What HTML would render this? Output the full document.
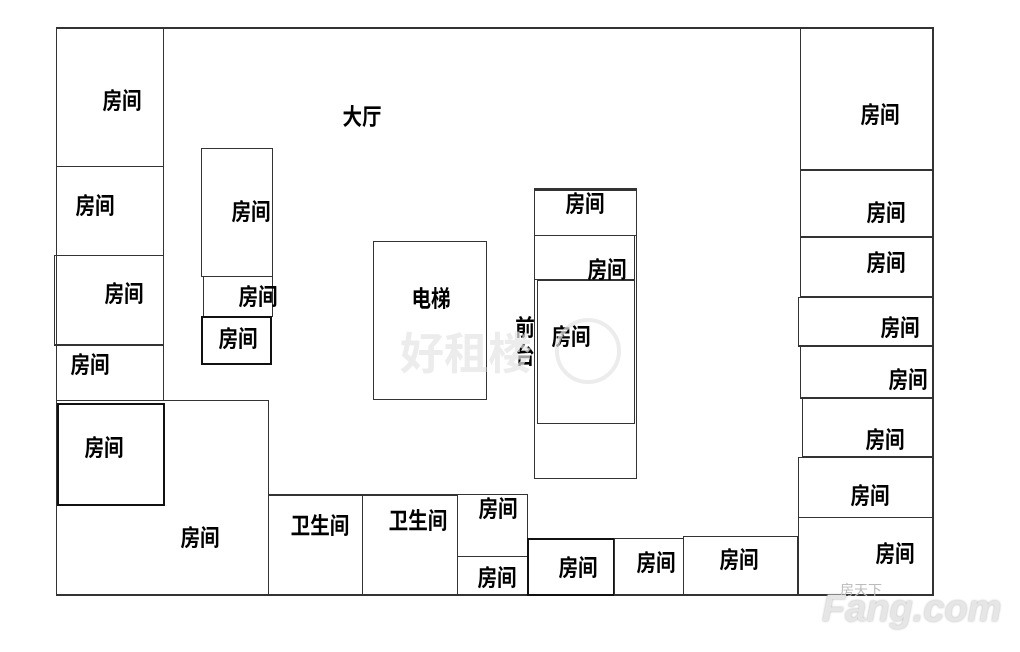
<!DOCTYPE html>
<html><head><meta charset="utf-8"><style>
body{margin:0;width:1020px;height:652px;background:#fff;position:relative;overflow:hidden;font-family:"Liberation Sans","Noto Sans CJK SC",sans-serif}
.r{position:absolute;border:1px solid #333;box-sizing:border-box}
.t{border-width:2px;border-color:#111}
.l{position:absolute;font-size:23px;color:#000;transform:translate(-50%,-50%) scaleX(0.85);white-space:nowrap;line-height:1;font-weight:bold}
</style></head><body>
<div class="r" style="left:56px;top:27px;width:878px;height:569px;border-width:2px 2px 2px 1px"></div>
<div class="r" style="left:56px;top:27px;width:108px;height:140px"></div>
<div class="r" style="left:56px;top:166px;width:108px;height:90px"></div>
<div class="r" style="left:54px;top:255px;width:110px;height:91px;border-bottom-width:2px"></div>
<div class="r" style="left:56px;top:345px;width:108px;height:56px"></div>
<div class="r" style="left:56px;top:400px;width:213px;height:196px"></div>
<div class="r t" style="left:57px;top:403px;width:108px;height:103px"></div>
<div class="r" style="left:201px;top:148px;width:72px;height:129px"></div>
<div class="r" style="left:203px;top:276px;width:70px;height:41px"></div>
<div class="r t" style="left:201px;top:316px;width:71px;height:49px"></div>
<div class="r" style="left:373px;top:241px;width:114px;height:159px"></div>
<div class="r" style="left:534px;top:188px;width:103px;height:291px;border-top-width:2px"></div>
<div class="r" style="left:534px;top:190px;width:103px;height:46px"></div>
<div class="r" style="left:534px;top:235px;width:101px;height:45px"></div>
<div class="r" style="left:537px;top:279px;width:98px;height:145px;border-top-width:2px"></div>
<div class="r" style="left:268px;top:494px;width:95px;height:102px;border-top-width:2px"></div>
<div class="r" style="left:362px;top:494px;width:96px;height:102px;border-top-width:2px"></div>
<div class="r" style="left:457px;top:494px;width:71px;height:63px"></div>
<div class="r" style="left:457px;top:556px;width:71px;height:40px"></div>
<div class="r t" style="left:527px;top:538px;width:88px;height:58px"></div>
<div class="r" style="left:614px;top:538px;width:70px;height:58px"></div>
<div class="r" style="left:683px;top:536px;width:115px;height:60px;border-bottom-width:2px"></div>
<div class="r" style="left:800px;top:27px;width:134px;height:144px;border-bottom-width:2px"></div>
<div class="r" style="left:800px;top:170px;width:134px;height:68px;border-bottom-width:2px"></div>
<div class="r" style="left:800px;top:237px;width:134px;height:61px;border-bottom-width:2px"></div>
<div class="r" style="left:798px;top:297px;width:136px;height:50px;border-bottom-width:2px"></div>
<div class="r" style="left:800px;top:346px;width:134px;height:53px;border-bottom-width:2px"></div>
<div class="r" style="left:802px;top:398px;width:132px;height:60px;border-bottom-width:2px"></div>
<div class="r" style="left:798px;top:457px;width:136px;height:61px"></div>
<div class="r" style="left:798px;top:517px;width:136px;height:79px;border-bottom-width:2px"></div>
<div class="l" style="left:122px;top:101px">房间</div>
<div class="l" style="left:95px;top:206px">房间</div>
<div class="l" style="left:124px;top:294px">房间</div>
<div class="l" style="left:90px;top:365px">房间</div>
<div class="l" style="left:104px;top:448px">房间</div>
<div class="l" style="left:200px;top:538px">房间</div>
<div class="l" style="left:251px;top:212px">房间</div>
<div class="l" style="left:258px;top:297px">房间</div>
<div class="l" style="left:238px;top:339px">房间</div>
<div class="l" style="left:362px;top:117px">大厅</div>
<div class="l" style="left:431px;top:299px">电梯</div>
<div class="l" style="left:525px;top:328px">前</div>
<div class="l" style="left:525px;top:356px">台</div>
<div class="l" style="left:585px;top:204px">房间</div>
<div class="l" style="left:607px;top:270px">房间</div>
<div class="l" style="left:571px;top:337px">房间</div>
<div class="l" style="left:320px;top:526px">卫生间</div>
<div class="l" style="left:418px;top:521px">卫生间</div>
<div class="l" style="left:498px;top:509px">房间</div>
<div class="l" style="left:497px;top:578px">房间</div>
<div class="l" style="left:578px;top:568px">房间</div>
<div class="l" style="left:656px;top:563px">房间</div>
<div class="l" style="left:739px;top:560px">房间</div>
<div class="l" style="left:880px;top:115px">房间</div>
<div class="l" style="left:886px;top:213px">房间</div>
<div class="l" style="left:886px;top:263px">房间</div>
<div class="l" style="left:900px;top:328px">房间</div>
<div class="l" style="left:908px;top:380px">房间</div>
<div class="l" style="left:885px;top:440px">房间</div>
<div class="l" style="left:870px;top:496px">房间</div>
<div class="l" style="left:895px;top:554px">房间</div>
<div style="position:absolute;left:400px;top:318px;font-size:44px;color:#e4e4e4;font-weight:bold;font-family:'Noto Sans CJK SC',sans-serif;opacity:.7">好租楼</div>
<div style="position:absolute;left:555px;top:318px;width:58px;height:58px;border:4px solid #e4e4e4;border-radius:50%;opacity:.7"></div>
<div style="position:absolute;left:840px;top:580px;font-size:14px;color:#bbb;font-family:'Noto Sans CJK SC',sans-serif">房天下</div>
<div style="position:absolute;left:822px;top:588px;font-size:38px;color:#e6e6e6;font-weight:bold;font-style:italic;font-family:'Liberation Sans',sans-serif;text-shadow:0 0 2px #aaa">Fang.com</div>
</body></html>
